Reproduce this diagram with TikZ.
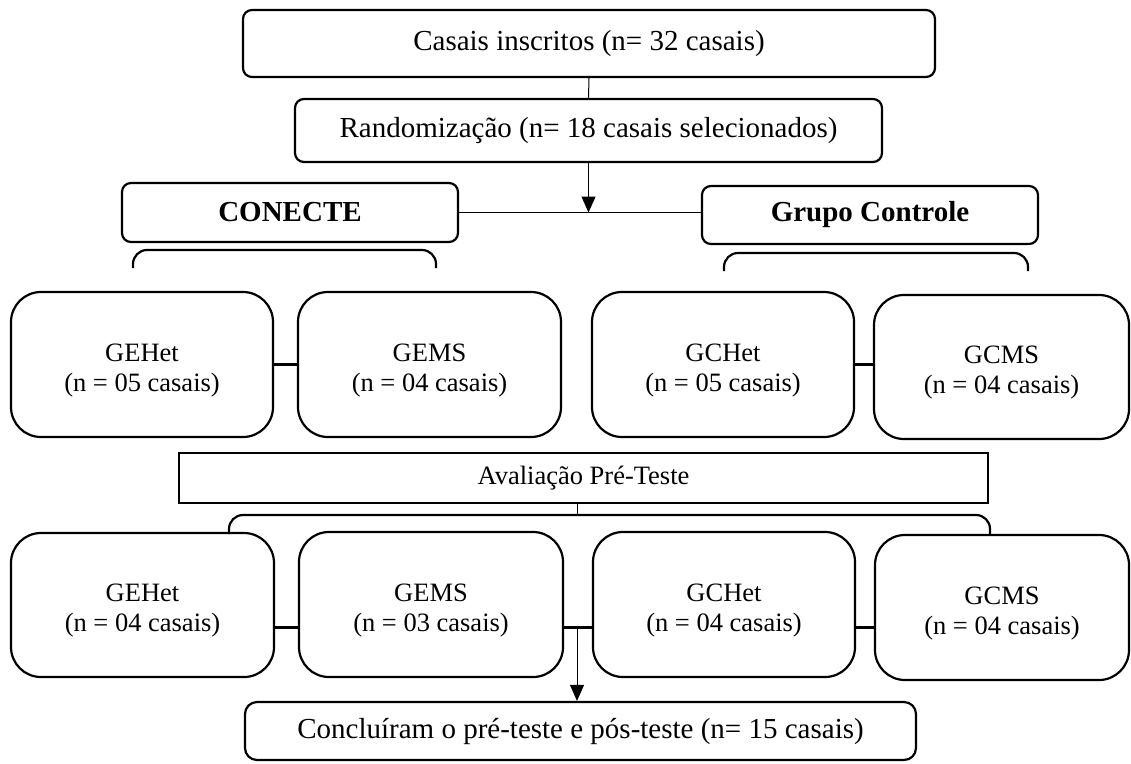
\documentclass[tikz,border=0pt]{standalone}
\usepackage{fontspec}
\setmainfont{Liberation Serif}
\usetikzlibrary{arrows.meta,calc}
\begin{document}
\begin{tikzpicture}[x=1pt,y=-1pt,
  bigtxt/.style={font=\fontsize{29}{33}\selectfont},
  smalltxt/.style={font=\fontsize{26.5}{30}\selectfont},
  topbox/.style={draw,line width=2.2pt,rounded corners=9pt,inner sep=0pt,align=center,bigtxt},
  groupbox/.style={draw,line width=2.2pt,rounded corners=30pt,inner sep=0pt,align=center,smalltxt,minimum width=262pt,minimum height=145pt,text height=59pt},
  thin/.style={line width=1pt},
  thick link/.style={line width=3pt},
  brace/.style={line width=2.2pt,rounded corners=14pt},
  arr/.style={line width=1pt,-{Triangle[width=14pt,length=16pt]}}]
\useasboundingbox (0,0) rectangle (1131,763);

\node[topbox,minimum width=692pt,minimum height=67pt] (top) at (589,43.5) {Casais inscritos (n= 32 casais)};
\node[topbox,minimum width=587pt,minimum height=63pt] (rand) at (588.5,130.5) {Randomização (n= 18 casais selecionados)};
\node[topbox,minimum width=336pt,minimum height=59pt,font=\fontsize{29}{33}\selectfont\bfseries] (conecte) at (290,212.5) {CONECTE};
\node[topbox,minimum width=336pt,minimum height=58pt,font=\fontsize{29}{33}\selectfont\bfseries] (grupo) at (870,215) {Grupo Controle};

\draw[thin] (top.south) -- (rand.north);
\coordinate (j1) at (rand.south |- conecte.east);
\draw[thin] (conecte.east) -- (conecte.east -| grupo.west);
\draw[arr] (rand.south) -- (j1);

% open brackets under group headers
\draw[brace] (133,268) -- (133,250) -- (436,250) -- (436,268);
\draw[brace] (724,271) -- (724,253) -- (1028,253) -- (1028,271);

% middle row
\node[groupbox] (m1) at (142,364.5) {GEHet\\(n = 05 casais)};
\node[groupbox,minimum width=263pt] (m2) at (429.5,364.5) {GEMS\\(n = 04 casais)};
\node[groupbox] (m3) at (723,364.5) {GCHet\\(n = 05 casais)};
\node[groupbox,minimum width=255pt,minimum height=144pt] (m4) at (1001.5,367) {GCMS\\(n = 04 casais)};
\draw[thick link] (m1.east) -- (m2.west);
\draw[thick link] (m3.east) -- (m3.east -| m4.west);

% pre-test
\node[draw,line width=2.2pt,minimum width=809pt,minimum height=50pt,inner sep=0pt,smalltxt] (pre) at (583.5,478) {Avaliação Pré-Teste};
\coordinate (bt) at (577,515);
\draw[thin] (pre.south -| bt) -- (bt);
\draw[brace] (229,534) -- (229,515) -- (990,515) -- (990,534);

% bottom row
\node[groupbox,minimum width=263pt,minimum height=144pt] (b1) at (142.5,605) {GEHet\\(n = 04 casais)};
\node[groupbox,minimum width=264pt] (b2) at (431,604.5) {GEMS\\(n = 03 casais)};
\node[groupbox] (b3) at (724,604.5) {GCHet\\(n = 04 casais)};
\node[groupbox,minimum width=254pt] (b4) at (1002,607.5) {GCMS\\(n = 04 casais)};
\coordinate (l1) at ($(b1.east)+(0,22)$);
\coordinate (j2) at (577,627);
\draw[thick link] (l1) -- (l1 -| b2.west);
\draw[thick link] (l1 -| b2.east) -- (l1 -| b3.west);
\draw[thick link] (l1 -| b3.east) -- (l1 -| b4.west);

\node[topbox,minimum width=671pt,minimum height=58pt,rounded corners=12pt] (final) at (580.5,731) {Concluíram o pré-teste e pós-teste (n= 15 casais)};
\draw[arr] (j2) -- (j2 |- final.north);
\end{tikzpicture}
\end{document}
